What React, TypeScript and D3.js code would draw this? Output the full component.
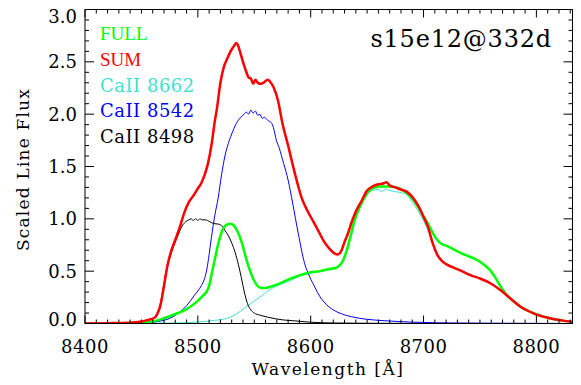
import React from "react";
import * as d3 from "d3";

// ---------- data ----------
const blackWl = [8400, 8420, 8440, 8450, 8456, 8460, 8463, 8466, 8469, 8472, 8475, 8478, 8482, 8486, 8489, 8492, 8494, 8496, 8498, 8500, 8502, 8504, 8507, 8510, 8514, 8518, 8521, 8524, 8527, 8530, 8533, 8536, 8538.5, 8541, 8544, 8547, 8550, 8555, 8562, 8575, 8586, 8600, 8620, 8650, 8700, 8832];
const blackVal = [0, 0.003, 0.008, 0.02, 0.035, 0.05, 0.07, 0.15, 0.32, 0.5, 0.62, 0.72, 0.83, 0.93, 0.97, 0.99, 1.0, 0.985, 1.0, 0.985, 1.0, 0.99, 0.99, 0.975, 0.955, 0.95, 0.935, 0.89, 0.84, 0.77, 0.68, 0.56, 0.44, 0.31, 0.19, 0.13, 0.1, 0.08, 0.06, 0.035, 0.025, 0.012, 0.005, 0.002, 0.001, 0];

const blueWl = [8400, 8450, 8465, 8478, 8490, 8497, 8503, 8506, 8508, 8510, 8512, 8515, 8518, 8521, 8524, 8527, 8530, 8534, 8538, 8541, 8543, 8545, 8547, 8549, 8551, 8553, 8555, 8557, 8559, 8562, 8565, 8567, 8569.6, 8572, 8576, 8580, 8584, 8589, 8594.7, 8599, 8604, 8608, 8614, 8620, 8628, 8636, 8650, 8665, 8690, 8710, 8750, 8832];
const blueVal = [0, 0.005, 0.02, 0.065, 0.17, 0.27, 0.36, 0.43, 0.52, 0.66, 0.82, 1.03, 1.2, 1.42, 1.6, 1.72, 1.81, 1.91, 1.97, 2.0, 2.02, 2.0, 2.04, 2.01, 2.03, 1.99, 2.0, 1.96, 1.97, 1.94, 1.92, 1.87, 1.75, 1.68, 1.53, 1.37, 1.15, 0.86, 0.57, 0.45, 0.34, 0.26, 0.18, 0.13, 0.09, 0.065, 0.04, 0.027, 0.013, 0.007, 0.003, 0];

const cyanWl = [8400, 8480, 8500, 8515, 8526, 8534, 8541, 8548, 8556, 8562, 8568, 8580, 8590, 8600, 8610, 8620, 8626, 8630, 8634, 8638, 8642, 8646, 8650, 8655, 8660, 8663, 8666, 8670, 8675, 8680, 8685, 8690, 8695, 8700, 8705, 8710, 8716, 8725, 8735, 8750, 8760, 8768, 8778, 8786, 8798, 8812, 8822, 8832];
const cyanVal = [0, 0.005, 0.015, 0.03, 0.05, 0.09, 0.145, 0.2, 0.26, 0.31, 0.35, 0.4, 0.45, 0.48, 0.5, 0.52, 0.55, 0.63, 0.76, 0.93, 1.07, 1.17, 1.24, 1.27, 1.28, 1.26, 1.28, 1.27, 1.26, 1.25, 1.23, 1.16, 1.08, 0.98, 0.86, 0.7, 0.61, 0.55, 0.5, 0.43, 0.38, 0.32, 0.23, 0.16, 0.095, 0.05, 0.03, 0.015];

const redWl = [8400, 8420, 8440, 8450, 8456, 8461, 8464, 8467, 8470, 8473, 8476, 8480, 8484, 8488, 8492, 8496, 8500, 8503, 8506, 8509, 8512, 8515, 8517, 8520, 8523, 8526, 8529, 8532, 8534, 8535.5, 8537, 8540, 8543, 8545, 8547, 8549, 8551, 8553, 8555, 8558, 8562, 8564, 8567, 8571, 8575, 8580, 8584, 8588, 8592, 8597, 8602, 8607, 8612, 8617, 8621, 8624, 8627, 8630, 8633, 8636, 8640, 8645, 8650, 8655, 8660, 8665, 8667, 8670, 8675, 8680, 8685, 8690, 8695, 8700, 8704, 8708, 8712, 8717, 8725, 8732, 8742, 8750, 8760, 8768, 8778, 8786, 8798, 8812, 8822, 8832];
const redVal = [0, 0.003, 0.008, 0.02, 0.035, 0.05, 0.09, 0.18, 0.36, 0.55, 0.68, 0.8, 0.92, 1.06, 1.16, 1.22, 1.29, 1.34, 1.42, 1.53, 1.7, 1.93, 2.06, 2.3, 2.45, 2.53, 2.6, 2.65, 2.68, 2.66, 2.61, 2.5, 2.4, 2.35, 2.34, 2.29, 2.33, 2.3, 2.29, 2.3, 2.33, 2.31, 2.26, 2.13, 1.91, 1.7, 1.52, 1.35, 1.2, 1.08, 0.98, 0.88, 0.78, 0.71, 0.67, 0.66, 0.69, 0.78, 0.86, 0.96, 1.07, 1.17, 1.27, 1.31, 1.33, 1.34, 1.35, 1.32, 1.3, 1.28, 1.26, 1.21, 1.13, 1.02, 0.92, 0.77, 0.66, 0.59, 0.54, 0.51, 0.46, 0.43, 0.38, 0.32, 0.23, 0.16, 0.095, 0.05, 0.03, 0.015];

const greenWl = [8400, 8440, 8460, 8470, 8480, 8489, 8497, 8504, 8508, 8510, 8512, 8515, 8518, 8521, 8524, 8527, 8530, 8533, 8536, 8539, 8541.3, 8545, 8549, 8552, 8556, 8560, 8564, 8570, 8580, 8590, 8600, 8608, 8616, 8622, 8626, 8629, 8632, 8635, 8639, 8643, 8647, 8652, 8657, 8662, 8670, 8676, 8682, 8687, 8691, 8696, 8700, 8703, 8706, 8709, 8712, 8716, 8721, 8730, 8738, 8745, 8750, 8755, 8759, 8763, 8768, 8774, 8780, 8786, 8798, 8812, 8822, 8832];
const greenVal = [0, 0.005, 0.02, 0.05, 0.09, 0.13, 0.19, 0.26, 0.31, 0.36, 0.46, 0.61, 0.76, 0.87, 0.93, 0.95, 0.95, 0.92, 0.86, 0.77, 0.68, 0.54, 0.43, 0.37, 0.34, 0.34, 0.35, 0.37, 0.42, 0.46, 0.49, 0.5, 0.52, 0.53, 0.56, 0.61, 0.7, 0.82, 0.99, 1.1, 1.19, 1.27, 1.3, 1.31, 1.31, 1.3, 1.27, 1.23, 1.18, 1.1, 1.02, 0.97, 0.91, 0.85, 0.8, 0.76, 0.74, 0.69, 0.65, 0.62, 0.59, 0.55, 0.51, 0.45, 0.36, 0.27, 0.21, 0.16, 0.097, 0.05, 0.03, 0.015];

const xMajorTicks = [8400, 8500, 8600, 8700, 8800];
const yMajorTicks = [0, 0.5, 1.0, 1.5, 2.0, 2.5, 3.0];
const legendLabels = ["FULL", "SUM", "CaII 8662", "CaII 8542", "CaII 8498"];
const legendColors = ["#00ff00", "#ff0000", "#40e0d0", "#0000ff", "#000000"];
const titleText = "s15e12@332d";

// ---------- layout ----------
const W = 581, H = 385;
const L = 85, R = 572.5, T = 9.5, B = 323.5;

export default function App() {
  const x = d3.scaleLinear().domain([8400, 8832]).range([L, R]);
  const y = d3.scaleLinear().domain([0, 3]).range([B, T]);
  const line = d3.line<[number, number]>().x(d => x(d[0])).y(d => y(d[1])).curve(d3.curveMonotoneX);
  const mk = (w: number[], v: number[]) => line(w.map((wl, i) => [wl, v[i]] as [number, number])) || "";

  const xMinor = d3.range(8400, 8833, 10);
  const yMinor = d3.range(0, 31).map(i => i / 10);
  const serif = "DejaVu Serif";

  const series = [
    { d: mk(cyanWl, cyanVal), c: legendColors[2], w: 1 },
    { d: mk(blackWl, blackVal), c: legendColors[4], w: 1 },
    { d: mk(blueWl, blueVal), c: legendColors[3], w: 1 },
    { d: mk(greenWl, greenVal), c: legendColors[0], w: 2.5 },
    { d: mk(redWl, redVal), c: legendColors[1], w: 2.5 },
  ];

  return (
    <svg width={W} height={H} style={{ position: "absolute", left: 0, top: 0, background: "#fff" }}>
      <defs>
        <clipPath id="plot"><rect x={L} y={T} width={R - L} height={B - T} /></clipPath>
      </defs>
      <g clipPath="url(#plot)">
        {series.map((s, i) => (
          <path key={i} d={s.d} fill="none" stroke={s.c} strokeWidth={s.w} strokeLinejoin="round" />
        ))}
      </g>
      <rect x={L} y={T} width={R - L} height={B - T} fill="none" stroke="#000" strokeWidth={1} />
      {/* x ticks */}
      {xMinor.map(v => {
        const major = xMajorTicks.includes(v);
        const len = major ? 8 : 4;
        const px = x(v);
        return (
          <g key={"xt" + v}>
            <line x1={px} x2={px} y1={B} y2={B - len} stroke="#000" />
            <line x1={px} x2={px} y1={T} y2={T + len} stroke="#000" />
          </g>
        );
      })}
      {yMinor.map(v => {
        const major = Math.abs(v * 2 - Math.round(v * 2)) < 1e-6;
        const len = major ? 9 : 4;
        const py = y(v);
        return (
          <g key={"yt" + v}>
            <line x1={L} x2={L + len} y1={py} y2={py} stroke="#000" />
            <line x1={R} x2={R - len} y1={py} y2={py} stroke="#000" />
          </g>
        );
      })}
      {xMajorTicks.map(v => (
        <text key={"xl" + v} x={x(v)} y={353} textAnchor="middle" fontFamily={serif} fontSize={18} letterSpacing={0.5}>{v}</text>
      ))}
      {yMajorTicks.map(v => {
        const c = Math.min(Math.max(y(v), 16.7), 319);
        return (
          <text key={"yl" + v} x={77} y={c + 6.5} textAnchor="end" fontFamily={serif} fontSize={18}>{v.toFixed(1)}</text>
        );
      })}
      <text x={328} y={375} textAnchor="middle" fontFamily={serif} fontSize={17} letterSpacing={1.5}>Wavelength [Å]</text>
      <text transform={`translate(29,${(T + B) / 2 + 3}) rotate(-90)`} textAnchor="middle" fontFamily={serif} fontSize={17} letterSpacing={1.2}>Scaled Line Flux</text>
      {legendLabels.map((t, i) => (
        <text key={t} x={100} y={40 + i * 25.8} fontFamily={i < 2 ? "Liberation Serif" : serif} fontSize={i < 2 ? 19 : 18} letterSpacing={i < 2 ? 0 : 0.5} fill={legendColors[i]}>{t}</text>
      ))}
      <text x={552} y={46.7} textAnchor="end" fontFamily={serif} fontSize={24} letterSpacing={0.8}>{titleText}</text>
    </svg>
  );
}
